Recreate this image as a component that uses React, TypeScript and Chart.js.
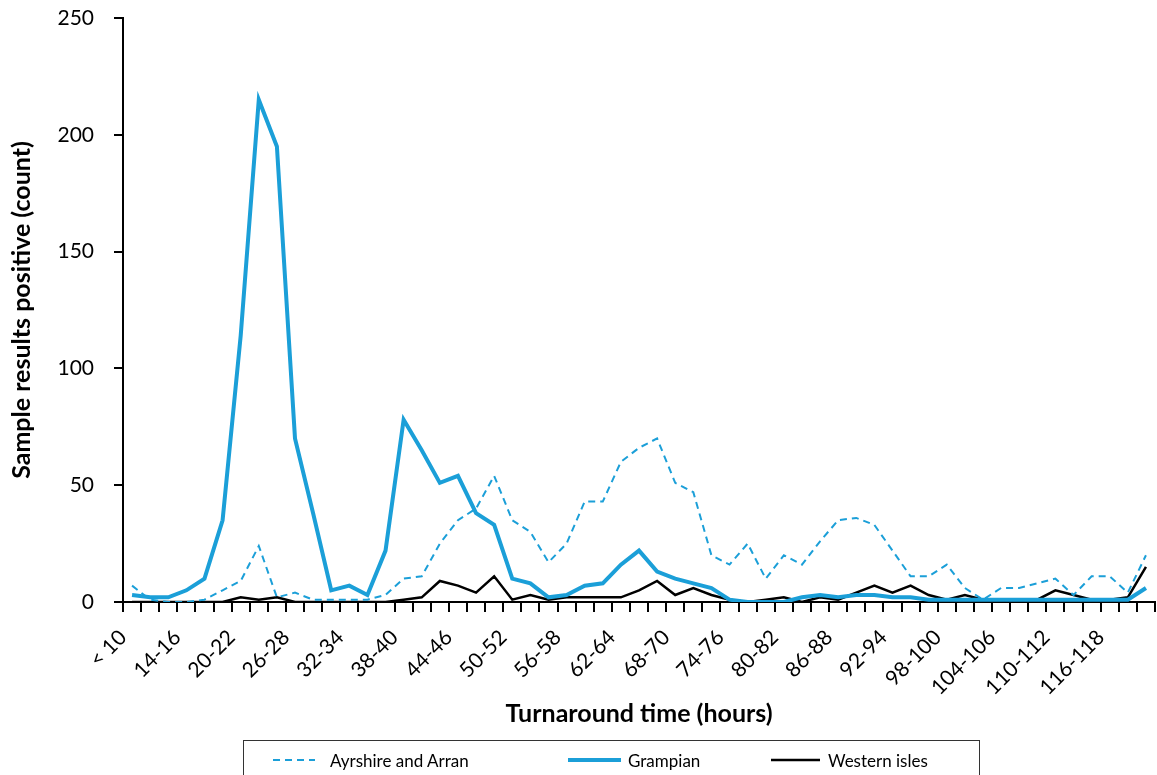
import React, { useEffect, useRef } from 'react';
import { Chart, registerables } from 'chart.js';

Chart.register(...registerables);

const categories: string[] = [
  '< 10', '10-12', '12-14', '14-16', '16-18', '18-20', '20-22', '22-24', '24-26', '26-28',
  '28-30', '30-32', '32-34', '34-36', '36-38', '38-40', '40-42', '42-44', '44-46', '46-48',
  '48-50', '50-52', '52-54', '54-56', '56-58', '58-60', '60-62', '62-64', '64-66', '66-68',
  '68-70', '70-72', '72-74', '74-76', '76-78', '78-80', '80-82', '82-84', '84-86', '86-88',
  '88-90', '90-92', '92-94', '94-96', '96-98', '98-100', '100-102', '102-104', '104-106', '106-108',
  '108-110', '110-112', '112-114', '114-116', '116-118', '118-120', '> 120',
];

const ayrshire: number[] = [
  7, 1, 0, 0, 1, 5, 9, 24, 2, 4,
  1, 1, 1, 1, 3, 10, 11, 25, 35, 40,
  54, 35, 30, 17, 25, 43, 43, 60, 66, 70,
  51, 47, 20, 16, 25, 10, 20, 16, 26, 35,
  36, 33, 22, 11, 11, 16, 6, 1, 6, 6,
  8, 10, 3, 11, 11, 4, 20,
];

const grampian: number[] = [
  3, 2, 2, 5, 10, 35, 114, 215, 195, 70,
  38, 5, 7, 3, 22, 78, 65, 51, 54, 38,
  33, 10, 8, 2, 3, 7, 8, 16, 22, 13,
  10, 8, 6, 1, 0, 0, 0, 2, 3, 2,
  3, 3, 2, 2, 1, 1, 1, 1, 1, 1,
  1, 1, 1, 1, 1, 1, 6,
];

const westernIsles: number[] = [
  0, 0, 0, 0, 0, 0, 2, 1, 2, 0,
  0, 0, 0, 0, 0, 1, 2, 9, 7, 4,
  11, 1, 3, 1, 2, 2, 2, 2, 5, 9,
  3, 6, 3, 1, 0, 1, 2, 0, 2, 1,
  4, 7, 4, 7, 3, 1, 3, 1, 0, 1,
  1, 5, 3, 1, 1, 2, 15,
];

const yTicks = { min: 0, max: 250, step: 50 };

const BLUE = '#1b9fd8';
const FONT = 'Lato, "Open Sans", sans-serif';

export default function App() {
  const canvasRef = useRef<HTMLCanvasElement | null>(null);

  useEffect(() => {
    if (!canvasRef.current) return;
    const chart = new Chart(canvasRef.current, {
      type: 'line',
      data: {
        labels: categories,
        datasets: [
          {
            label: 'Ayrshire and Arran',
            data: ayrshire,
            borderColor: BLUE,
            borderWidth: 2,
            borderDash: [7, 5],
            pointRadius: 0,
            tension: 0,
            fill: false,
          },
          {
            label: 'Grampian',
            data: grampian,
            borderColor: BLUE,
            borderWidth: 4,
            pointRadius: 0,
            tension: 0,
            fill: false,
          },
          {
            label: 'Western isles',
            data: westernIsles,
            borderColor: '#000',
            borderWidth: 2.5,
            pointRadius: 0,
            tension: 0,
            fill: false,
          },
        ],
      },
      options: {
        responsive: false,
        animation: false,
        layout: { padding: { left: 0, right: 2, top: 18, bottom: 42 } },
        plugins: {
          legend: { display: false },
          tooltip: { enabled: false },
        },
        font: { family: FONT },
        scales: {
          x: {
            type: 'category',
            offset: true,
            grid: {
              offset: true,
              drawOnChartArea: false,
              drawTicks: true,
              tickLength: 10,
              color: '#000',
              lineWidth: 2,
            },
            border: { color: '#000', width: 2 },
            ticks: {
              autoSkip: false,
              maxRotation: 45,
              minRotation: 45,
              padding: 13,
              labelOffset: -9,
              color: '#000',
              font: { family: FONT, size: 21 },
              callback: (_v: any, i: number) => (i % 3 === 0 ? categories[i] : ''),
            },
            title: {
              display: true,
              text: 'Turnaround time (hours)',
              color: '#000',
              font: { family: FONT, size: 25, weight: 'bold' },
              padding: { top: 4, bottom: 4 },
            },
            afterFit: (s: any) => {
              s.height = 131;
              s.paddingLeft = 0;
              s.paddingRight = 0;
            },
          },
          y: {
            min: yTicks.min,
            max: yTicks.max,
            ticks: {
              stepSize: yTicks.step,
              padding: 20,
              color: '#000',
              font: { family: FONT, size: 21 },
            },
            grid: {
              drawOnChartArea: false,
              tickLength: 9,
              color: '#000',
              lineWidth: 2,
            },
            border: { color: '#000', width: 2 },
            title: {
              display: true,
              text: 'Sample results positive (count)',
              color: '#000',
              font: { family: FONT, size: 25, weight: 'bold' },
              padding: { top: 7, bottom: 4 },
            },
            afterFit: (s: any) => {
              s.width = 123;
              s.paddingTop = 0;
              s.paddingBottom = 0;
            },
          },
        },
      } as any,
    });
    return () => chart.destroy();
  }, []);

  const legendText: React.CSSProperties = {
    position: 'absolute',
    top: 19,
    transform: 'translateY(-50%)',
    fontFamily: FONT,
    fontSize: 17,
    color: '#000',
    whiteSpace: 'nowrap',
  };

  return (
    <div
      style={{
        position: 'fixed',
        left: 0,
        top: 0,
        width: 1157,
        height: 775,
        overflow: 'hidden',
        background: '#fff',
      }}
    >
      <canvas ref={canvasRef} width={1157} height={775} style={{ position: 'absolute', left: 0, top: 0 }} />
      <div
        style={{
          position: 'absolute',
          left: 243,
          top: 740,
          width: 737,
          height: 60,
          border: '1px solid #333',
          boxSizing: 'border-box',
        }}
      >
        <svg style={{ position: 'absolute', left: 29, top: 13 }} width={42} height={12}>
          <line x1={0} y1={6} x2={42} y2={6} stroke={BLUE} strokeWidth={2} strokeDasharray="7 5" />
        </svg>
        <span style={{ ...legendText, left: 86 }}>Ayrshire and Arran</span>
        <svg style={{ position: 'absolute', left: 324, top: 13 }} width={53} height={12}>
          <line x1={0} y1={6} x2={53} y2={6} stroke={BLUE} strokeWidth={4} />
        </svg>
        <span style={{ ...legendText, left: 384 }}>Grampian</span>
        <svg style={{ position: 'absolute', left: 527, top: 13 }} width={49} height={12}>
          <line x1={0} y1={6} x2={49} y2={6} stroke="#000" strokeWidth={2.5} />
        </svg>
        <span style={{ ...legendText, left: 584 }}>Western isles</span>
      </div>
    </div>
  );
}
